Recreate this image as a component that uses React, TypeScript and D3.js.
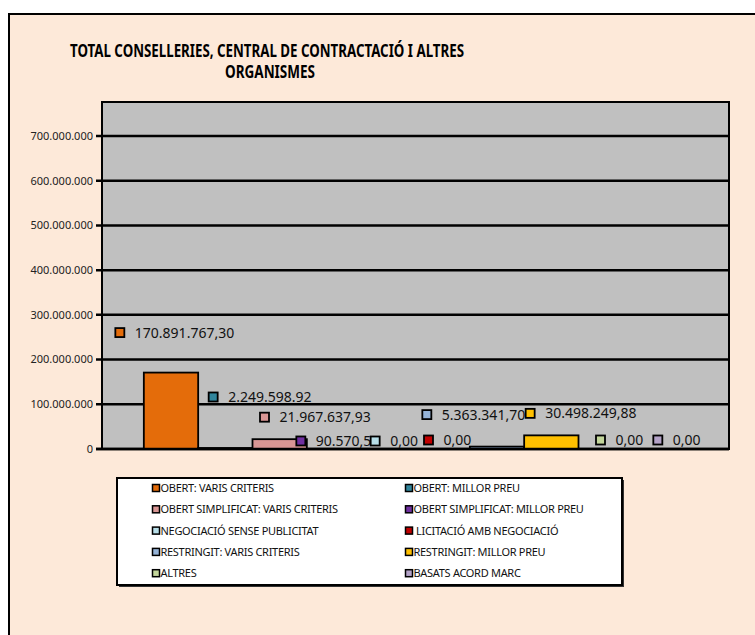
import React from 'react';
import * as d3 from 'd3';

// procediments de contractació (una sola categoria, 10 sèries)
const series = [
  'OBERT: VARIS CRITERIS',
  'OBERT: MILLOR PREU',
  'OBERT SIMPLIFICAT: VARIS CRITERIS',
  'OBERT SIMPLIFICAT: MILLOR PREU',
  'NEGOCIACIÓ SENSE PUBLICITAT',
  ' LICITACIÓ AMB NEGOCIACIÓ',
  'RESTRINGIT: VARIS CRITERIS',
  'RESTRINGIT: MILLOR PREU',
  'ALTRES',
  'BASATS ACORD MARC',
];

const values = [170891767.3, 2249598.92, 21967637.93, 90570.5, 0, 0, 5363341.7, 30498249.88, 0, 0];

const valueLabels = [
  '170.891.767,30',
  '2.249.598.92',
  '21.967.637,93',
  '90.570,50',
  '0,00',
  '0,00',
  '5.363.341,70',
  '30.498.249,88',
  '0,00',
  '0,00',
];

const colors = [
  '#E46C0A',
  '#31859C',
  '#D99694',
  '#7030A0',
  '#B7DEE8',
  '#C00000',
  '#95B3D7',
  '#FFC000',
  '#C3D69B',
  '#B3A2C7',
];

const yTicks = [0, 100000000, 200000000, 300000000, 400000000, 500000000, 600000000, 700000000];
const yMax = 776000000;

// desplaçament manual de cada etiqueta (clau) respecte a la barra: [dx des de x0, dy des del cim]
const labelNudge = [
  [-24, -40], [15, -51], [12, -22], [-6, -8], [14, -8],
  [13, -9], [-43, -32], [6, -22], [22, -9], [25, -9],
];

const W = 755;
const H = 635;
const plot = { left: 102, top: 102, right: 729, bottom: 449 };

const ca = d3.formatLocale({ decimal: ',', thousands: '.', grouping: [3], currency: ['', ' €'] });
const fmtTick = ca.format(',');

const font = "'Noto Sans', 'Open Sans', sans-serif";

export default function App() {
  const x = d3.scaleBand<string>()
    .domain(series)
    .range([plot.left, plot.right])
    .paddingInner(0)
    .paddingOuter(0.77);

  const y = d3.scaleLinear()
    .domain([0, yMax])
    .range([plot.bottom, plot.top]);

  return (
    <svg width={W} height={H} style={{ position: 'absolute', left: 0, top: 0, fontFamily: font }}>
      {/* fons del gràfic */}
      <rect x={9} y={14} width={W + 20} height={H + 20} fill="#FDE9D9" stroke="#000" strokeWidth={2} />

      {/* títol */}
      <text x={267} y={56.5} textAnchor="middle" fontSize={18} fontWeight="bold" fill="#000"
        textLength={394} lengthAdjust="spacingAndGlyphs">
        TOTAL CONSELLERIES, CENTRAL DE CONTRACTACIÓ I ALTRES
      </text>
      <text x={270} y={77.5} textAnchor="middle" fontSize={18} fontWeight="bold" fill="#000"
        textLength={90} lengthAdjust="spacingAndGlyphs">
        ORGANISMES
      </text>

      {/* àrea de traçat */}
      <rect x={plot.left} y={plot.top} width={plot.right - plot.left} height={plot.bottom - plot.top}
        fill="#C0C0C0" />

      {/* línies de graella i eix Y */}
      {yTicks.map(t => (
        <g key={t}>
          <line x1={plot.left - 6} x2={plot.right} y1={y(t)} y2={y(t)} stroke="#000" strokeWidth={2.5} />
          <text x={93} y={y(t)} dy="0.35em" textAnchor="end" fontSize={11} fill="#222">
            {fmtTick(t)}
          </text>
        </g>
      ))}

      {/* barres */}
      {series.map((s, i) => (
        <rect key={s} x={x(s)} y={y(values[i])} width={x.bandwidth()}
          height={Math.max(0, y(0) - y(values[i]))}
          fill={colors[i]} stroke="#000" strokeWidth={1.8} />
      ))}

      <rect x={plot.left} y={plot.top} width={plot.right - plot.left} height={plot.bottom - plot.top}
        fill="none" stroke="#000" strokeWidth={2} />
      <line x1={plot.left - 6} x2={plot.right} y1={y(0)} y2={y(0)} stroke="#000" strokeWidth={2.5} />

      {/* etiquetes de dades */}
      {series.map((s, i) => {
        const kx = (x(s) ?? 0) + labelNudge[i][0];
        const ky = y(values[i]) + labelNudge[i][1];
        return (
          <g key={'lbl' + s}>
            <rect x={kx - 4.5} y={ky - 4.5} width={9} height={9} fill={colors[i]} stroke="#000" strokeWidth={1.8} />
            <text x={kx + 15} y={ky + 5} fontSize={14} fill="#111">{valueLabels[i]}</text>
          </g>
        );
      })}

      {/* llegenda */}
      <rect x={119} y={480} width={505} height={107} fill="#333" />
      <rect x={117} y={478} width={505} height={107} fill="#fff" stroke="#000" strokeWidth={2} />
      {series.map((s, i) => {
        const col = i % 2;
        const row = Math.floor(i / 2);
        const kx = col === 0 ? 156 : 409;
        const ky = 488 + row * 21.3;
        return (
          <g key={'leg' + s}>
            <rect x={kx - 3.5} y={ky - 3.5} width={7} height={7} fill={colors[i]} stroke="#000" strokeWidth={1.5} />
            <text x={kx + 4.5} y={ky} dy="0.36em" fontSize={11} letterSpacing={-0.3} fill="#111"
              style={{ whiteSpace: 'pre' }}>
              {s}
            </text>
          </g>
        );
      })}
    </svg>
  );
}
